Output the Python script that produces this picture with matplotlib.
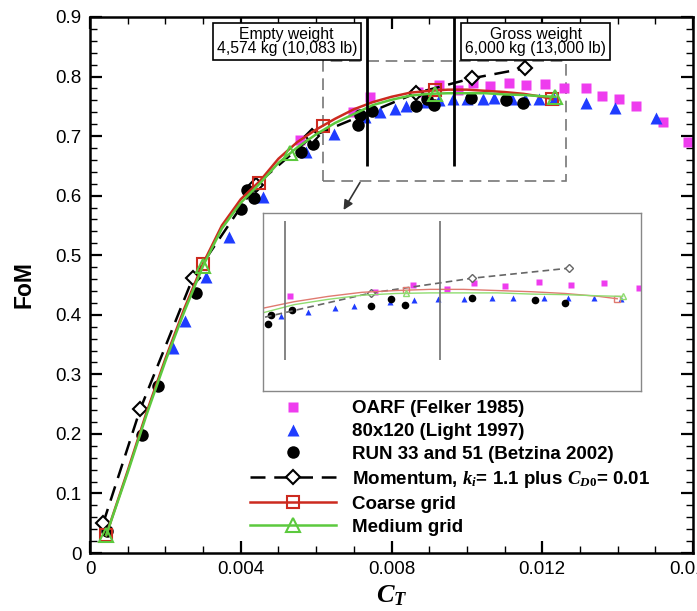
# FoM vs C_T for the rotor: experiment, momentum theory and CFD grids

import matplotlib.pyplot as plt
from matplotlib.lines import Line2D
from matplotlib.patches import Rectangle
from matplotlib.ticker import MultipleLocator

plt.rcParams['font.family'] = ['Liberation Sans', 'DejaVu Sans']
plt.rcParams['mathtext.fontset'] = 'custom'
plt.rcParams['mathtext.it'] = 'Liberation Serif:italic:bold'
plt.rcParams['mathtext.rm'] = 'Liberation Serif:bold'
plt.rcParams['mathtext.bf'] = 'Liberation Serif:bold'

# OARF (Felker 1985)
oarf_ct = [0.00557, 0.00699, 0.00744, 0.00870, 0.00926, 0.00976, 0.01016, 0.01061, 0.01112,
           0.01158, 0.01208, 0.01259, 0.01316, 0.01358, 0.01403, 0.01448, 0.01520, 0.01587]
oarf_fom = [0.693, 0.740, 0.766, 0.774, 0.786, 0.778, 0.789, 0.784, 0.790,
            0.785, 0.788, 0.780, 0.780, 0.768, 0.763, 0.750, 0.723, 0.690]

# 80x120 (Light 1997)
light_ct = [0.00221, 0.00253, 0.00309, 0.00368, 0.00459, 0.00573, 0.00648, 0.00731, 0.00770,
            0.00810, 0.00838, 0.00892, 0.00927, 0.00963, 0.01001, 0.01042, 0.01073, 0.01119,
            0.01154, 0.01192, 0.01232, 0.01315, 0.01392, 0.01501]
light_fom = [0.344, 0.390, 0.463, 0.530, 0.597, 0.673, 0.703, 0.732, 0.740,
             0.746, 0.750, 0.757, 0.760, 0.762, 0.762, 0.763, 0.764, 0.763,
             0.763, 0.763, 0.762, 0.755, 0.747, 0.730]

# RUN 33 and 51 (Betzina 2002)
betz_ct = [0.00045, 0.00139, 0.00181, 0.00281, 0.00400, 0.00416, 0.00435, 0.00560, 0.00592,
           0.00712, 0.00716, 0.00747, 0.00864, 0.00893, 0.00914, 0.01012, 0.01105, 0.01150]
betz_fom = [0.037, 0.198, 0.281, 0.437, 0.577, 0.609, 0.596, 0.673, 0.687,
            0.719, 0.735, 0.743, 0.750, 0.762, 0.752, 0.764, 0.760, 0.755]

# momentum theory, ki = 1.1 plus Cd0 = 0.01
mom_ct = [0.00035, 0.00133, 0.00273, 0.00440, 0.00590, 0.00864, 0.01013, 0.01155]
mom_fom = [0.050, 0.241, 0.462, 0.618, 0.700, 0.772, 0.797, 0.814]

# coarse grid: symbols and the curve through them
coarse_ct = [0.00043, 0.00299, 0.00448, 0.00619, 0.00915, 0.01227]
coarse_fom = [0.030, 0.486, 0.621, 0.717, 0.777, 0.762]
coarse_line_ct = [0.00043, 0.0010, 0.0015, 0.0020, 0.0025, 0.0030, 0.0035, 0.0040, 0.0045,
                  0.0050, 0.0055, 0.0060, 0.0065, 0.0070, 0.0075, 0.0080, 0.0085, 0.0090,
                  0.0095, 0.0100, 0.0105, 0.0110, 0.0115, 0.0120, 0.01227]
coarse_line_fom = [0.030, 0.138, 0.236, 0.326, 0.410, 0.486, 0.550, 0.594, 0.624,
                   0.662, 0.690, 0.711, 0.729, 0.745, 0.757, 0.766, 0.773, 0.776,
                   0.778, 0.778, 0.776, 0.774, 0.771, 0.766, 0.762]

# medium grid
medium_ct = [0.00043, 0.00300, 0.00530, 0.00915, 0.01235]
medium_fom = [0.030, 0.482, 0.672, 0.771, 0.766]
medium_line_ct = [0.00043, 0.0010, 0.0015, 0.0020, 0.0025, 0.0030, 0.0035, 0.0040, 0.0045,
                  0.0050, 0.0055, 0.0060, 0.0065, 0.0070, 0.0075, 0.0080, 0.0085, 0.0090,
                  0.0095, 0.0100, 0.0105, 0.0110, 0.0115, 0.0120, 0.01235]
medium_line_fom = [0.030, 0.135, 0.232, 0.322, 0.405, 0.482, 0.545, 0.588, 0.620,
                   0.655, 0.681, 0.703, 0.722, 0.737, 0.752, 0.761, 0.768, 0.771,
                   0.772, 0.772, 0.772, 0.770, 0.769, 0.767, 0.766]

labels = ['OARF (Felker 1985)', '80x120 (Light 1997)', 'RUN 33 and 51 (Betzina 2002)',
          r'Momentum, $k_i$= 1.1 plus $C_{D\mathit{0}}$= 0.01', 'Coarse grid', 'Medium grid']

empty_ct = 0.00736
gross_ct = 0.00965

xticks = [0, 0.004, 0.008, 0.012, 0.016]
xticklabels = ['0', '0.004', '0.008', '0.012', '0.016']
yticks = [0, 0.1, 0.2, 0.3, 0.4, 0.5, 0.6, 0.7, 0.8, 0.9]
yticklabels = ['0', '0.1', '0.2', '0.3', '0.4', '0.5', '0.6', '0.7', '0.8', '0.9']

pink = '#ee3cee'
blue = '#1f3cff'
red = '#cc2a1f'
green = '#5cc93e'

W, H = 697, 611
fig = plt.figure(figsize=(W / 100, H / 100), dpi=100)
ax = fig.add_axes([90 / W, 1 - 553 / H, 603 / W, 536 / H])

ax.plot(oarf_ct, oarf_fom, 's', color=pink, ms=7, mec='none')
ax.plot(light_ct, light_fom, '^', color=blue, ms=8, mec='none')
ax.plot(betz_ct, betz_fom, 'o', color='black', ms=9, mec='none')
ax.plot(mom_ct, mom_fom, '--', color='black', lw=1.8, dashes=(6, 3.5),
        marker='D', ms=7, mfc='white', mec='black', mew=1.5)
ax.plot(coarse_line_ct, coarse_line_fom, '-', color=red, lw=1.8)
ax.plot(coarse_ct, coarse_fom, 's', ms=9, mfc='none', mec=red, mew=1.5)
ax.plot(medium_line_ct, medium_line_fom, '-', color=green, lw=1.8)
ax.plot(medium_ct, medium_fom, '^', ms=10, mfc='none', mec=green, mew=1.5)

# weight lines and boxes
ax.vlines([empty_ct, gross_ct], 0.649, 0.9, color='black', lw=2)
box = dict(boxstyle='square,pad=0.25', fc='white', ec='black', lw=1.2)
ax.text(0.00522, 0.859, 'Empty weight\n4,574 kg (10,083 lb)', ha='center', va='center',
        fontsize=11.3, linespacing=0.98, bbox=box, zorder=5)
ax.text(0.01183, 0.859, 'Gross weight\n6,000 kg (13,000 lb)', ha='center', va='center',
        fontsize=11.3, linespacing=0.98, bbox=box, zorder=5)

# zoom window
ax.add_patch(Rectangle((0.00619, 0.624), 0.00645, 0.2015, fill=False, ec='#777777',
                       lw=1.2, ls=(0, (7, 4)), zorder=1))
ax.annotate('', xy=(0.00669, 0.572), xytext=(0.0072, 0.626),
            arrowprops=dict(arrowstyle='-|>', color='#333333', lw=1.2, mutation_scale=14))

ax.set_xlim(0, 0.016)
ax.set_ylim(0, 0.9)
ax.set_xticks(xticks)
ax.set_xticklabels(xticklabels)
ax.set_yticks(yticks)
ax.set_yticklabels(yticklabels)
ax.xaxis.set_minor_locator(MultipleLocator(0.001))
ax.yaxis.set_minor_locator(MultipleLocator(0.02))
ax.tick_params(which='both', direction='in', top=True, right=True)
ax.tick_params(which='major', length=8.5, width=1.6, labelsize=13.5, pad=6)
ax.tick_params(which='minor', length=5, width=1)
for s in ax.spines.values():
    s.set_linewidth(1.8)

ax.set_xlabel(r'$C_T$', fontsize=19, labelpad=4)
ax.set_ylabel('FoM', fontsize=16.5, fontweight='bold', labelpad=14)

handles = [
    Line2D([], [], ls='none', marker='s', color=pink, ms=7, mec='none'),
    Line2D([], [], ls='none', marker='^', color=blue, ms=8, mec='none'),
    Line2D([], [], ls='none', marker='o', color='black', ms=9, mec='none'),
    Line2D([], [], ls='--', dashes=(6, 3.5), color='black', lw=1.8, marker='D', ms=7,
           mfc='white', mec='black', mew=1.5),
    Line2D([], [], ls='-', color=red, lw=1.8, marker='s', ms=9, mfc='none', mec=red, mew=1.5),
    Line2D([], [], ls='-', color=green, lw=1.8, marker='^', ms=10, mfc='none', mec=green, mew=1.5),
]
ax.legend(handles, labels, loc='upper left', bbox_to_anchor=(250 / W, 1 - 400 / H),
          bbox_transform=fig.transFigure, frameon=False, borderpad=0, borderaxespad=0,
          handlelength=4.6, handletextpad=0.85, labelspacing=0.31,
          prop={'weight': 'bold', 'size': 13.5})

# inset: blow-up of the dashed window
axin = fig.add_axes([263 / W, 1 - 391 / H, 378 / W, 178 / H])
axin.plot(oarf_ct, oarf_fom, 's', color=pink, ms=3.8, mec='none')
axin.plot(light_ct, light_fom, '^', color=blue, ms=4.5, mec='none')
axin.plot(betz_ct, betz_fom, 'o', color='black', ms=5.5, mec='none')
axin.plot(mom_ct, mom_fom, '--', color='#666666', lw=1.2, dashes=(4, 2.5),
          marker='D', ms=4, mfc='white', mec='#666666', mew=1)
axin.plot(coarse_line_ct, coarse_line_fom, '-', color='#e07a70', lw=1)
axin.plot(coarse_ct, coarse_fom, 's', ms=4.5, mfc='none', mec='#e07a70', mew=1)
axin.plot(medium_line_ct, medium_line_fom, '-', color='#8fdc70', lw=1)
axin.plot(medium_ct, medium_fom, '^', ms=5, mfc='none', mec='#8fdc70', mew=1)
axin.vlines([empty_ct, gross_ct], 0.658, 0.894, color='#707070', lw=1.2)
axin.set_xlim(0.00704, 0.01262)
axin.set_ylim(0.605, 0.908)
axin.set_xticks([])
axin.set_yticks([])
for s in axin.spines.values():
    s.set_color('#888888')
    s.set_linewidth(1)

fig.savefig('out.png', dpi=100)
